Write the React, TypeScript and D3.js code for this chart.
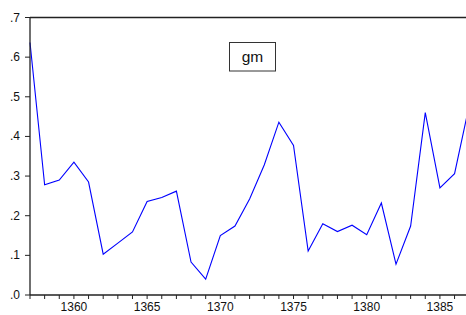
import React from "react";
import * as d3 from "d3";

const years: number[] = [1357,1358,1359,1360,1361,1362,1363,1364,1365,1366,1367,1368,1369,1370,1371,1372,1373,1374,1375,1376,1377,1378,1379,1380,1381,1382,1383,1384,1385,1386,1387];
const gm: number[] = [0.637,0.278,0.290,0.335,0.285,0.103,0.131,0.159,0.236,0.246,0.262,0.083,0.040,0.150,0.174,0.242,0.328,0.436,0.377,0.111,0.180,0.160,0.176,0.152,0.232,0.078,0.174,0.460,0.270,0.306,0.478];
const yTicks: number[] = [0,0.1,0.2,0.3,0.4,0.5,0.6,0.7];
const xLabels: number[] = [1360,1365,1370,1375,1380,1385];
const seriesName = "gm";

export default function App() {
  const W = 466, H = 315;
  const left = 30, top = 17.5, bottom = 295;
  const x = d3.scaleLinear().domain([1357, 1387]).range([left, left + 30 * 14.64]);
  const y = d3.scaleLinear().domain([0, 0.7]).range([bottom, top]);
  const line = d3.line<number>().x((_, i) => x(years[i])).y((d) => y(d));
  const fmt = (v: number) => "." + Math.round(v * 10);
  const font = "Liberation Sans, Arial, sans-serif";
  return (
    <svg width={W} height={H} style={{ position: "absolute", left: 0, top: 0, background: "#fff" }} fontFamily={font}>
      <path d={line(gm) || ""} fill="none" stroke="#0000ff" strokeWidth={1.1} />
      <line x1={left} x2={W} y1={top} y2={top} stroke="#222" strokeWidth={1.3} />
      <line x1={left} x2={left} y1={top} y2={bottom} stroke="#222" strokeWidth={1.3} />
      <line x1={left} x2={W} y1={bottom} y2={bottom} stroke="#222" strokeWidth={1.3} />
      {yTicks.map((t) => (
        <g key={t}>
          <line x1={left - 5} x2={left} y1={y(t)} y2={y(t)} stroke="#222" />
          <text x={20} y={y(t) + 4} textAnchor="end" fontSize={12} fill="#111">{fmt(t)}</text>
        </g>
      ))}
      {years.map((yr) => (
        <line key={yr} x1={x(yr)} x2={x(yr)} y1={bottom} y2={bottom + 4} stroke="#222" />
      ))}
      {xLabels.map((yr) => (
        <text key={yr} x={x(yr)} y={311} textAnchor="middle" fontSize={12} fill="#111">{yr}</text>
      ))}
      <rect x={229.5} y={42.5} width={46} height={28.5} fill="#fff" stroke="#333" strokeWidth={1} />
      <text x={252.5} y={62} textAnchor="middle" fontSize={15.5} fill="#111">{seriesName}</text>
    </svg>
  );
}
